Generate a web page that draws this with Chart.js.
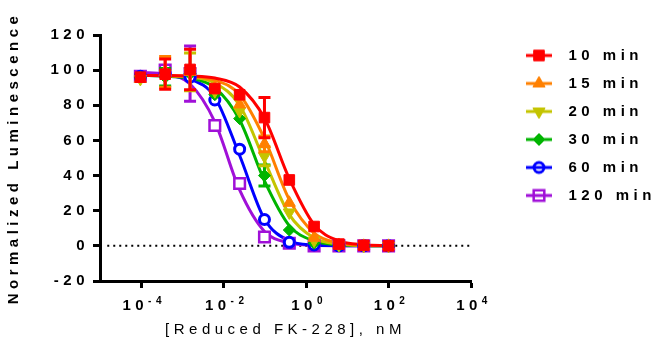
<!DOCTYPE html>
<html>
<head>
<meta charset="utf-8">
<script src="https://cdn.jsdelivr.net/npm/chart.js"></script>
<style>
  body { margin: 0; background: #fff; }
  canvas { display: block; }
</style>
</head>
<body>
<canvas id="chart" width="657" height="350"></canvas>
<script>
// concentrations, nM (4-fold dilution series)
const conc = [0.0000954, 0.000381, 0.00153, 0.0061, 0.0244, 0.0977, 0.391, 1.5625, 6.25, 25, 100];

const seriesNames = ['10 min', '15 min', '20 min', '30 min', '60 min', '120 min'];
const seriesColors = ['#ff0000', '#ff8000', '#c4c400', '#00b400', '#0000ff', '#a010d8'];

// measured points
const min10 = [96, 97.7, 100.4, 89.5, 86, 73, 37.5, 11, 1, 0.3, 0];
const min15 = [95, 99, 99, 90, 80.5, 58, 24.5, 4.6, 0.5, 0, 0];
const min20 = [95, 98, 99, 88, 76.7, 51, 19, 3, 0.5, 0, 0];
const min30 = [96, 96, 98, 86, 72.4, 40, 9, 1.5, 0, 0, 0];
const min60 = [96.5, 98, 96, 83, 55, 15, 2, 0.5, 0, 0, 0];
const min120 = [96.5, 100, 98, 68.5, 35.5, 5, 1.5, 0, 0, 0, 0];

// error bars (SD), 0 = not visible
const err10 = [0, 8.6, 11.5, 0, 0, 11.5, 0, 0, 0, 0, 0];
const err15 = [0, 8.8, 0, 0, 0, 4.5, 0, 0, 0, 0, 0];
const err20 = [0, 0, 10.7, 0, 0, 5.4, 0, 0, 0, 0, 0];
const err30 = [0, 5, 0, 0, 0, 6, 0, 0, 0, 0, 0];
const err60 = [0, 0, 0, 0, 0, 0, 0, 0, 0, 0, 0];
const err120 = [0, 0, 15.7, 0, 0, 0, 0, 0, 0, 0, 0];

// fitted curves at the same concentrations
const fit10 = [97, 97, 96.7, 95.5, 90.4, 72.6, 38.2, 12.1, 2.85, 0.64, 0.14];
const fit15 = [97, 96.9, 96.4, 94.3, 86, 61, 26.3, 7.3, 1.66, 0.37, 0.08];
const fit20 = [97, 96.8, 96, 92.7, 80, 48.5, 17.8, 4.5, 1.0, 0.2, 0.05];
const fit30 = [97, 96.6, 95.4, 90, 71.6, 37, 11.5, 2.8, 0.6, 0.13, 0.03];
const fit60 = [97, 96.6, 94.8, 84.6, 51.4, 15.3, 2.9, 0.5, 0.1, 0, 0];
const fit120 = [98.7, 97.6, 92.1, 70.6, 31.8, 8.2, 1.7, 0.3, 0.06, 0.01, 0];

// x axis ticks: 10^exp
const xTickValues = [1e-4, 1e-2, 1, 1e2, 1e4];
const xTickBase = '10';
const xTickExponents = ['-4', '-2', '0', '2', '4'];
const xMin = 1e-5, xMax = 1e4;
const zeroLineStart = 1.5e-5;

const values = [min10, min15, min20, min30, min60, min120];
const errors = [err10, err15, err20, err30, err60, err120];
const fits = [fit10, fit15, fit20, fit30, fit60, fit120];

const markers = [
  { style: 'rect', rot: 0, r: 7.5, bw: 1, fill: true },
  { style: 'triangle', rot: 0, r: 7, bw: 1, fill: true },
  { style: 'triangle', rot: 180, r: 7, bw: 1, fill: true },
  { style: 'rectRot', rot: 0, r: 6, bw: 1, fill: true },
  { style: 'circle', rot: 0, r: 5, bw: 3, fill: false },
  { style: 'rect', rot: 0, r: 7.5, bw: 2.5, fill: false }
];

const FONT = "'Liberation Sans', Arial, sans-serif";
const SPACING = '4.5px';
Chart.defaults.color = '#000';
Chart.defaults.font.family = FONT;

function legendIcon(i) {
  const c = document.createElement('canvas');
  c.width = 77; c.height = 20;
  const g = c.getContext('2d');
  const m = markers[i];
  g.strokeStyle = seriesColors[i];
  g.lineWidth = 3;
  g.beginPath(); g.moveTo(42, 10); g.lineTo(68, 10); g.stroke();
  g.fillStyle = m.fill ? seriesColors[i] : 'rgba(0,0,0,0)';
  g.lineWidth = m.bw;
  Chart.helpers.drawPoint(g, { pointStyle: m.style, rotation: m.rot, radius: m.r, borderWidth: m.bw }, 55, 10);
  return c;
}
const icons = seriesNames.map((_, i) => legendIcon(i));

const datasets = [];
seriesNames.forEach((name, i) => {
  datasets.push({
    label: name,
    data: conc.map((x, j) => ({ x: x, y: values[i][j] })),
    errors: errors[i],
    showLine: false,
    pointStyle: markers[i].style,
    rotation: markers[i].rot,
    pointRadius: markers[i].r,
    pointBorderWidth: markers[i].bw,
    borderColor: seriesColors[i],
    backgroundColor: markers[i].fill ? seriesColors[i] : '#fff',
    order: i
  });
});
seriesNames.forEach((name, i) => {
  datasets.push({
    label: name + ' fit',
    isFit: true,
    data: conc.map((x, j) => ({ x: x, y: fits[i][j] })),
    showLine: true,
    cubicInterpolationMode: 'monotone',
    borderColor: seriesColors[i],
    borderWidth: 3,
    pointRadius: 0,
    order: 10 + i
  });
});
datasets.push({
  label: 'zero',
  isFit: true,
  data: [{ x: zeroLineStart, y: 0 }, { x: xMax, y: 0 }],
  showLine: true,
  borderColor: '#000',
  borderWidth: 2,
  borderDash: [2, 4],
  pointRadius: 0,
  order: 30
});

const spacing = {
  id: 'spacing',
  beforeLayout(chart) { chart.ctx.letterSpacing = SPACING; },
  beforeDraw(chart) { chart.ctx.letterSpacing = SPACING; }
};

const errorBars = {
  id: 'errorBars',
  beforeDatasetDraw(chart, args) {
    const ds = chart.data.datasets[args.index];
    if (!ds.errors) return;
    const y = chart.scales.y;
    const ctx = chart.ctx;
    ctx.save();
    ctx.strokeStyle = ds.borderColor;
    ctx.lineWidth = 3;
    args.meta.data.forEach((pt, j) => {
      const e = ds.errors[j];
      if (!e) return;
      const top = y.getPixelForValue(ds.data[j].y + e);
      const bot = y.getPixelForValue(ds.data[j].y - e);
      ctx.beginPath();
      ctx.moveTo(pt.x, top); ctx.lineTo(pt.x, bot);
      ctx.moveTo(pt.x - 6, top); ctx.lineTo(pt.x + 6, top);
      ctx.moveTo(pt.x - 6, bot); ctx.lineTo(pt.x + 6, bot);
      ctx.stroke();
    });
    ctx.restore();
  }
};

// x tick labels as 10 with a raised exponent
const powerLabels = {
  id: 'powerLabels',
  afterDraw(chart) {
    const xs = chart.scales.x;
    const ctx = chart.ctx;
    ctx.save();
    ctx.letterSpacing = SPACING;
    ctx.fillStyle = '#000';
    ctx.textBaseline = 'alphabetic';
    ctx.textAlign = 'left';
    const baseFont = 'bold 15px ' + FONT;
    const expFont = 'bold 10px ' + FONT;
    const baseY = xs.top + 29;
    xTickValues.forEach((v, k) => {
      const px = xs.getPixelForValue(v);
      ctx.font = baseFont;
      const wb = ctx.measureText(xTickBase).width;
      ctx.font = expFont;
      const we = ctx.measureText(xTickExponents[k]).width;
      const left = px - (wb + we) / 2 + 3;
      ctx.font = baseFont;
      ctx.fillText(xTickBase, left, baseY);
      ctx.font = expFont;
      ctx.fillText(xTickExponents[k], left + wb, baseY - 6);
    });
    ctx.restore();
  }
};

new Chart(document.getElementById('chart'), {
  type: 'scatter',
  data: { datasets: datasets },
  plugins: [spacing, errorBars, powerLabels],
  options: {
    responsive: false,
    animation: false,
    layout: { padding: { left: 0, right: 0, top: 35, bottom: 0 } },
    plugins: {
      tooltip: { enabled: false },
      legend: {
        position: 'right',
        align: 'start',
        maxWidth: 186,
        labels: {
          usePointStyle: true,
          pointStyleWidth: 77,
          padding: 13,
          color: '#000',
          font: { family: FONT, size: 15, weight: 'bold' },
          filter: (item, data) => !data.datasets[item.datasetIndex].isFit,
          generateLabels(chart) {
            const items = Chart.defaults.plugins.legend.labels.generateLabels(chart);
            items.forEach(it => {
              if (it.datasetIndex < icons.length) {
                it.pointStyle = icons[it.datasetIndex];
                it.rotation = 0;
              }
            });
            return items;
          }
        }
      }
    },
    scales: {
      x: {
        type: 'logarithmic',
        min: xMin,
        max: xMax,
        afterBuildTicks(scale) {
          scale.ticks = xTickValues.map(v => ({ value: v }));
        },
        afterFit(scale) { scale.height = 69; },
        ticks: {
          autoSkip: false,
          maxRotation: 0,
          callback: () => ''
        },
        grid: { drawOnChartArea: false, drawTicks: true, tickLength: 7, tickWidth: 3, tickColor: '#000' },
        border: { display: true, width: 3, color: '#000' },
        title: {
          display: true,
          text: '[Reduced FK-228], nM',
          color: '#000',
          font: { family: FONT, size: 15 },
          padding: { top: 11, bottom: 11 }
        }
      },
      y: {
        min: -20,
        max: 120,
        afterFit(scale) { scale.width = 100; },
        ticks: {
          stepSize: 20,
          padding: 4,
          color: '#000',
          font: { family: FONT, size: 15, weight: 'bold' }
        },
        grid: { drawOnChartArea: false, drawTicks: true, tickLength: 7, tickWidth: 3, tickColor: '#000' },
        border: { display: true, width: 3, color: '#000' },
        title: {
          display: true,
          text: 'Normalized Luminescence',
          color: '#000',
          font: { family: FONT, size: 15, weight: 'bold' },
          padding: { top: 5, bottom: 5 }
        }
      }
    }
  }
});
</script>
</body>
</html>
